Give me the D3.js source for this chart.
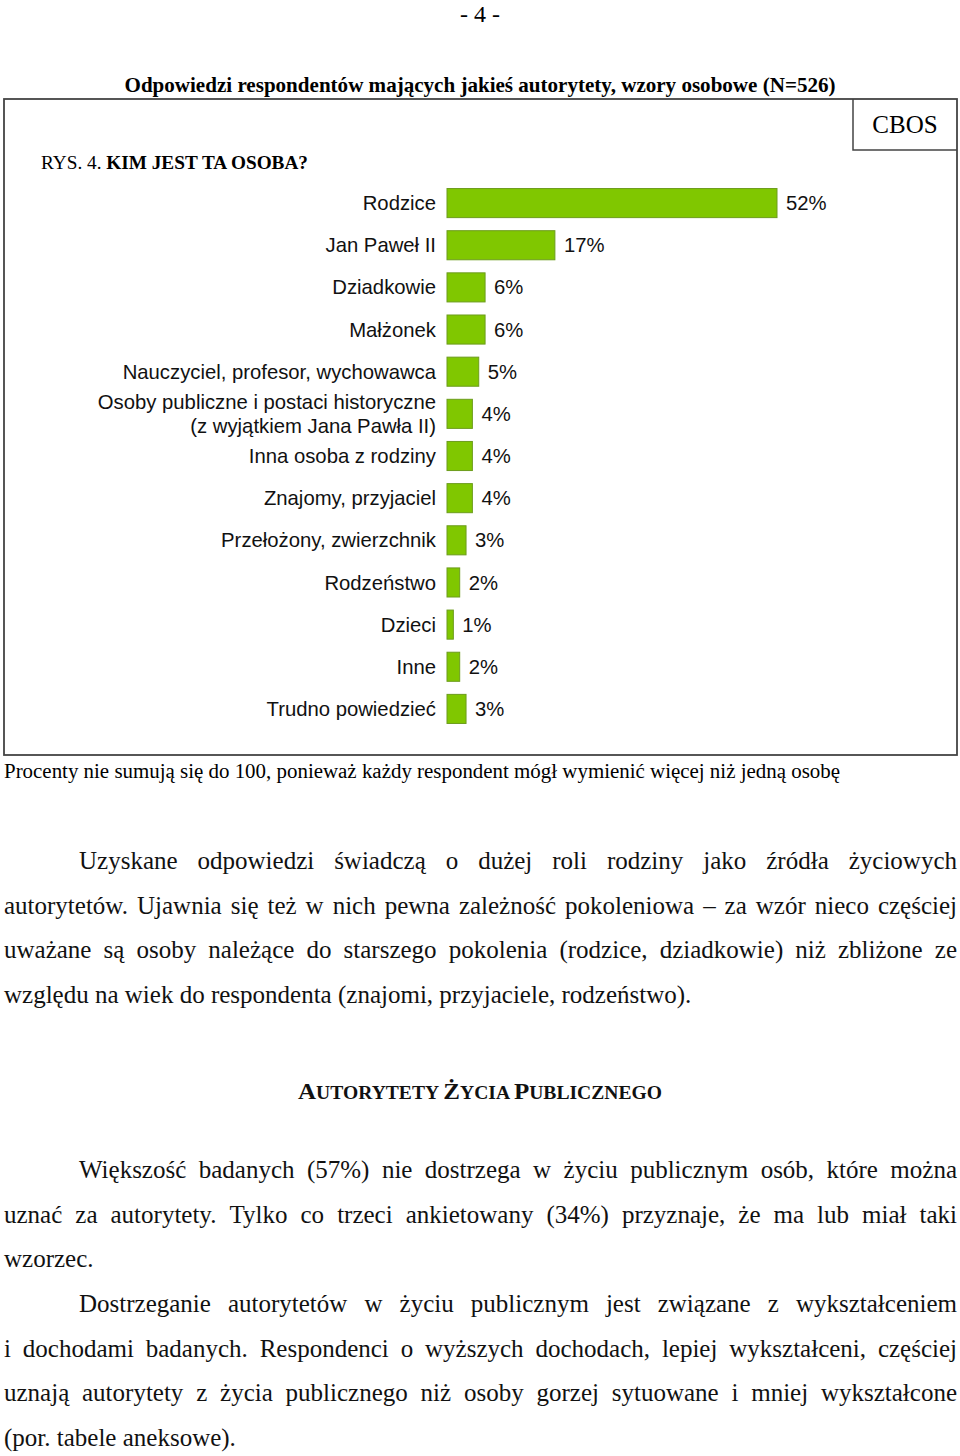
<!DOCTYPE html>
<html>
<head>
<meta charset="utf-8">
<script src="https://cdn.jsdelivr.net/npm/d3@7"></script>
<style>
  html, body { margin: 0; padding: 0; background: #fff; }
  svg { display: block; }
</style>
</head>
<body>
<svg id="page" width="960" height="1456"></svg>
<script>
// ---- data ----
const categories = [
  "Rodzice", "Jan Paweł II", "Dziadkowie", "Małżonek",
  "Nauczyciel, profesor, wychowawca",
  "Osoby publiczne i postaci historyczne\n(z wyjątkiem Jana Pawła II)",
  "Inna osoba z rodziny", "Znajomy, przyjaciel", "Przełożony, zwierzchnik",
  "Rodzeństwo", "Dzieci", "Inne", "Trudno powiedzieć"
];
const values = [52, 17, 6, 6, 5, 4, 4, 4, 3, 2, 1, 2, 3];
const valueLabels = values.map(v => v + "%");

const pageNumber = "- 4 -";
const chartTitle = "Odpowiedzi respondentów mających jakieś autorytety, wzory osobowe (N=526)";
const figPrefix = "RYS. 4. ";
const figTitle = "KIM JEST TA OSOBA?";
const sourceLabel = "CBOS";
const footnote = "Procenty nie sumują się do 100, ponieważ każdy respondent mógł wymienić więcej niż jedną osobę";

const paragraph1 = [
  "Uzyskane odpowiedzi świadczą o dużej roli rodziny jako źródła życiowych",
  "autorytetów. Ujawnia się też w nich pewna zależność pokoleniowa – za wzór nieco częściej",
  "uważane są osoby należące do starszego pokolenia (rodzice, dziadkowie) niż zbliżone ze",
  "względu na wiek do respondenta (znajomi, przyjaciele, rodzeństwo)."
];
const headingParts = [["A", true], ["UTORYTETY ", false], ["Ż", true], ["YCIA ", false], ["P", true], ["UBLICZNEGO", false]];
const paragraph2 = [
  "Większość badanych (57%) nie dostrzega w życiu publicznym osób, które można",
  "uznać za autorytety. Tylko co trzeci ankietowany (34%) przyznaje, że ma lub miał taki",
  "wzorzec."
];
const paragraph3 = [
  "Dostrzeganie autorytetów w życiu publicznym jest związane z wykształceniem",
  "i dochodami badanych. Respondenci o wyższych dochodach, lepiej wykształceni, częściej",
  "uznają autorytety z życia publicznego niż osoby gorzej sytuowane i mniej wykształcone",
  "(por. tabele aneksowe)."
];

// ---- drawing ----
const svg = d3.select("#page");
const SERIF = "'Liberation Serif', 'Times New Roman', serif";
const SANS = "'Liberation Sans', Arial, sans-serif";

// page number
svg.append("text").attr("x", 480).attr("y", 22).attr("text-anchor", "middle")
  .attr("font-family", SERIF).attr("font-size", 24).text(pageNumber);

// chart title
svg.append("text").attr("x", 480).attr("y", 92).attr("text-anchor", "middle")
  .attr("font-family", SERIF).attr("font-size", 21).attr("font-weight", "bold")
  .attr("textLength", 711).attr("lengthAdjust", "spacingAndGlyphs")
  .text(chartTitle);

// frame
const frame = {x0: 4, y0: 99, x1: 957, y1: 755};
svg.append("rect").attr("x", frame.x0).attr("y", frame.y0)
  .attr("width", frame.x1 - frame.x0).attr("height", frame.y1 - frame.y0)
  .attr("fill", "none").attr("stroke", "#444").attr("stroke-width", 1.8);
svg.append("path").attr("d", `M853,${frame.y0} V150 H${frame.x1}`)
  .attr("fill", "none").attr("stroke", "#444").attr("stroke-width", 1.5);
svg.append("text").attr("x", 905).attr("y", 133).attr("text-anchor", "middle")
  .attr("font-family", SERIF).attr("font-size", 25).text(sourceLabel);

// figure caption
const cap = svg.append("text").attr("x", 41).attr("y", 169)
  .attr("font-family", SERIF).attr("font-size", 18)
  .attr("textLength", 267).attr("lengthAdjust", "spacingAndGlyphs");
cap.append("tspan").text(figPrefix);
cap.append("tspan").attr("font-weight", "bold").text(figTitle);

// scales
const x = d3.scaleLinear().domain([0, 52]).range([447, 777]);
const y = d3.scaleBand().domain(categories).range([182, 730]).paddingInner(0.31).paddingOuter(0.155);

const chart = svg.append("g");
chart.selectAll("rect.bar").data(values).join("rect").attr("class", "bar")
  .attr("x", x(0))
  .attr("y", (d, i) => y(categories[i]))
  .attr("width", d => x(d) - x(0))
  .attr("height", y.bandwidth())
  .attr("fill", "#80c700")
  .attr("stroke", "#6c9c1c").attr("stroke-width", 1);

// category labels
chart.selectAll("text.cat").data(categories).join("text").attr("class", "cat")
  .attr("x", 436)
  .attr("y", d => y(d) + y.bandwidth() / 2)
  .attr("text-anchor", "end")
  .attr("font-family", SANS).attr("font-size", 20.3).attr("fill", "#111")
  .each(function(d) {
    const lines = d.split("\n");
    const t = d3.select(this);
    const lh = 24;
    lines.forEach((ln, k) => {
      t.append("tspan").attr("x", 436)
        .attr("y", y(d) + y.bandwidth() / 2 + (k - (lines.length - 1) / 2) * lh)
        .attr("dy", "0.35em").text(ln);
    });
  });

// value labels
chart.selectAll("text.val").data(values).join("text").attr("class", "val")
  .attr("x", d => x(d) + 9)
  .attr("y", (d, i) => y(categories[i]) + y.bandwidth() / 2)
  .attr("dy", "0.35em")
  .attr("font-family", SANS).attr("font-size", 20.3).attr("fill", "#111")
  .text((d, i) => valueLabels[i]);

// footnote
svg.append("text").attr("x", 4).attr("y", 778)
  .attr("font-family", SERIF).attr("font-size", 20)
  .attr("textLength", 836).attr("lengthAdjust", "spacingAndGlyphs")
  .text(footnote);

// justified body text
const FS = 25;
function drawLine(x0, x1, yy, text, justify) {
  const words = text.split(" ");
  const t = svg.append("text").attr("y", yy).attr("font-family", SERIF).attr("font-size", FS).attr("fill", "#111");
  const spans = words.map(w => t.append("tspan").text(w));
  const widths = spans.map(s => s.node().getComputedTextLength());
  const total = d3.sum(widths);
  let gap = FS * 0.25;
  let scale = 1;
  if (justify && words.length > 1) {
    gap = (x1 - x0 - total) / (words.length - 1);
    if (gap < 3) { gap = 3; scale = (x1 - x0 - gap * (words.length - 1)) / total; }
  }
  let cx = x0;
  spans.forEach((s, i) => { s.attr("x", cx); cx += widths[i] * scale + gap; });
  if (scale !== 1) {
    t.attr("transform", `translate(${x0},0) scale(${scale},1) translate(${-x0},0)`);
  }
}
function drawParagraph(lines, baselines) {
  lines.forEach((ln, i) => {
    const last = i === lines.length - 1;
    drawLine(i === 0 ? 79 : 4, 957, baselines[i], ln, !last);
  });
}
drawParagraph(paragraph1, [869, 914, 958, 1003]);

// heading
const hd = svg.append("text").attr("x", 480).attr("y", 1099).attr("text-anchor", "middle")
  .attr("font-family", SERIF).attr("font-weight", "bold").attr("fill", "#111")
  .attr("textLength", 364).attr("lengthAdjust", "spacingAndGlyphs");
headingParts.forEach(([s, big]) => hd.append("tspan").attr("font-size", big ? 23 : 18).text(s));

drawParagraph(paragraph2, [1178, 1223, 1267]);
drawParagraph(paragraph3, [1312, 1357, 1401, 1446]);
</script>
</body>
</html>
